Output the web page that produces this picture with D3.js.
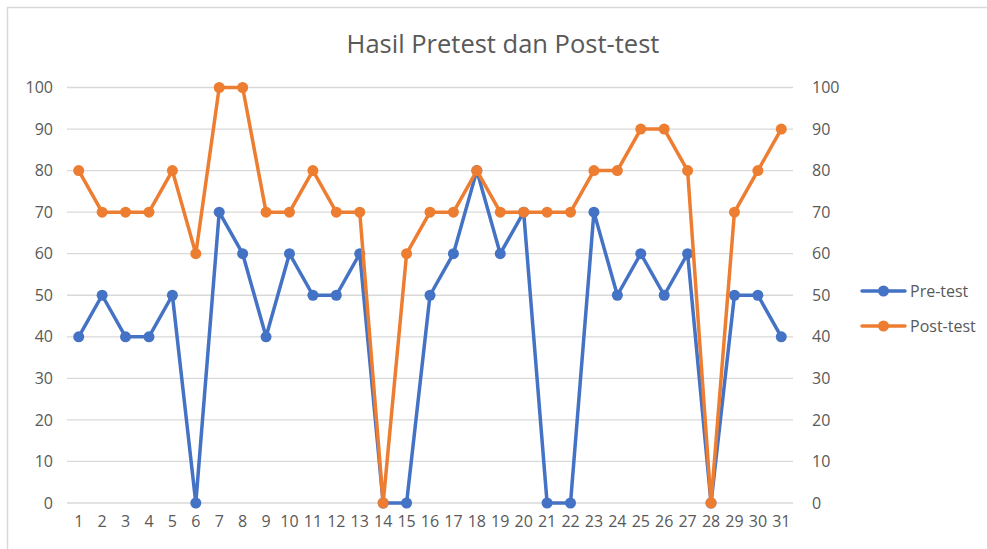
<!DOCTYPE html>
<html>
<head>
<meta charset="utf-8">
<script src="https://cdn.jsdelivr.net/npm/d3@7"></script>
<style>
  body { margin: 0; background: #fff; }
  text { font-family: "Open Sans", "Liberation Sans", sans-serif; fill: #595959; }
</style>
</head>
<body>
<div id="chart"></div>
<script>
const days = d3.range(1, 32).map(String);
const preTest = [40, 50, 40, 40, 50, 0, 70, 60, 40, 60, 50, 50, 60, 0, 0, 50, 60, 80, 60, 70, 0, 0, 70, 50, 60, 50, 60, 0, 50, 50, 40];
const postTest = [80, 70, 70, 70, 80, 60, 100, 100, 70, 70, 80, 70, 70, 0, 60, 70, 70, 80, 70, 70, 70, 70, 80, 80, 90, 90, 80, 0, 70, 80, 90];
const yTicks = [0, 10, 20, 30, 40, 50, 60, 70, 80, 90, 100];

const series = [
  { name: 'Pre-test', values: preTest, color: '#4472C4' },
  { name: 'Post-test', values: postTest, color: '#ED7D31' }
];

const W = 987, H = 549;
const plot = { left: 67, right: 793, top: 87.5, bottom: 503 };

const svg = d3.select("#chart").append("svg")
  .attr("width", W)
  .attr("height", H);

// chart frame: only top and left edges show in the crop
svg.append("path")
  .attr("d", `M7.5,${H} V7.5 H${W}`)
  .attr("fill", "none")
  .attr("stroke", "#d9d9d9")
  .attr("stroke-width", 1.5);

const x = d3.scaleBand().domain(days).range([plot.left, plot.right]);
const y = d3.scaleLinear().domain([0, 100]).range([plot.bottom, plot.top]);

// gridlines
svg.append("g")
  .selectAll("line")
  .data(yTicks)
  .enter().append("line")
  .attr("x1", plot.left).attr("x2", plot.right)
  .attr("y1", d => y(d)).attr("y2", d => y(d))
  .attr("stroke", "#d9d9d9")
  .attr("stroke-width", 1.3);

// left axis
const yl = svg.append("g")
  .attr("transform", `translate(${plot.left - 14},0)`)
  .call(d3.axisLeft(y).tickValues(yTicks).tickSize(0).tickPadding(0));
yl.select(".domain").remove();
yl.selectAll("text").style("font-size", "16px").attr("fill", "#595959");

// right axis
const yr = svg.append("g")
  .attr("transform", `translate(${plot.right + 19},0)`)
  .call(d3.axisRight(y).tickValues(yTicks).tickSize(0).tickPadding(0));
yr.select(".domain").remove();
yr.selectAll("text").style("font-size", "16px").attr("fill", "#595959");

// x axis
const xa = svg.append("g")
  .attr("transform", `translate(0,${plot.bottom + 10})`)
  .call(d3.axisBottom(x).tickSize(0).tickPadding(0));
xa.select(".domain").remove();
xa.selectAll("text").style("font-size", "16px").attr("fill", "#595959").attr("dy", "0.9em");

const cx = (d, i) => x(days[i]) + x.bandwidth() / 2;

const line = d3.line()
  .x((d, i) => cx(d, i))
  .y(d => y(d));

series.forEach(s => {
  const g = svg.append("g");
  g.append("path")
    .datum(s.values)
    .attr("d", line)
    .attr("fill", "none")
    .attr("stroke", s.color)
    .attr("stroke-width", 3.5)
    .attr("stroke-linejoin", "round");
  g.selectAll("circle")
    .data(s.values)
    .enter().append("circle")
    .attr("cx", cx)
    .attr("cy", d => y(d))
    .attr("r", 5.5)
    .attr("fill", s.color);
});

// title
svg.append("text")
  .attr("x", 503).attr("y", 53)
  .attr("text-anchor", "middle")
  .style("font-size", "25.5px")
  .text("Hasil Pretest dan Post-test");

// legend
const legend = svg.append("g")
  .selectAll("g")
  .data(series)
  .enter().append("g")
  .attr("transform", (d, i) => `translate(862,${291 + i * 35})`);
legend.append("line")
  .attr("x1", 0).attr("x2", 43)
  .attr("stroke", d => d.color)
  .attr("stroke-width", 3.5)
  .attr("stroke-linecap", "round");
legend.append("circle")
  .attr("cx", 21.5).attr("r", 5.5)
  .attr("fill", d => d.color);
legend.append("text")
  .attr("x", 48).attr("dy", "0.35em")
  .style("font-size", "16px")
  .text(d => d.name);
</script>
</body>
</html>
